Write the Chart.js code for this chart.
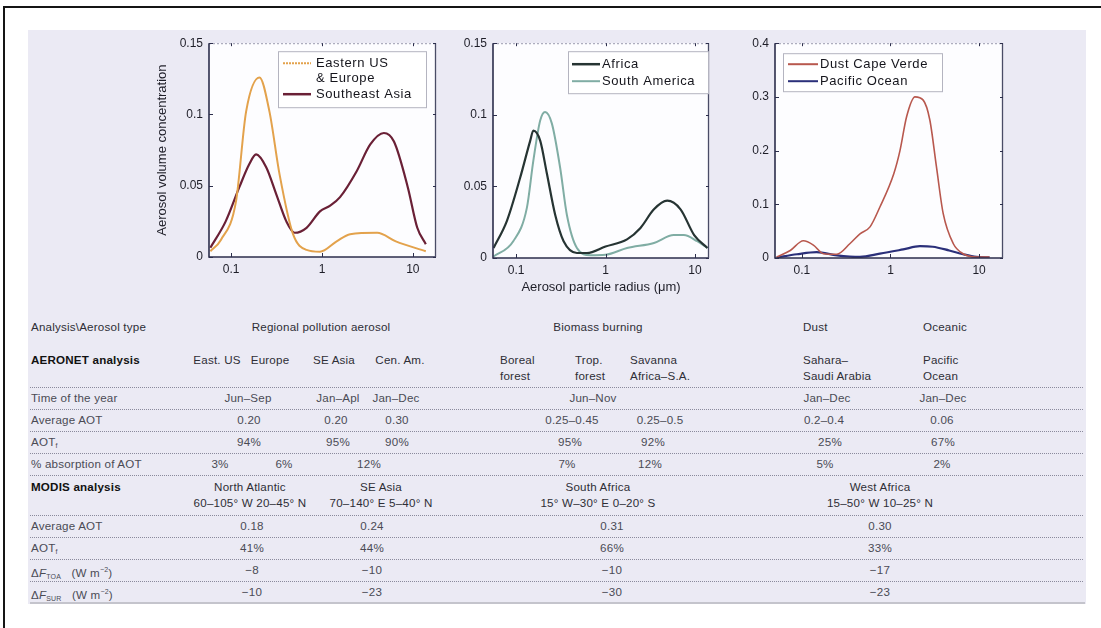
<!DOCTYPE html>
<html><head><meta charset="utf-8">
<script src="https://cdn.jsdelivr.net/npm/chart.js@4.4.1/dist/chart.umd.min.js"></script>
<style>
html,body{margin:0;padding:0;background:#fff;width:1101px;height:628px;overflow:hidden;font-family:'Liberation Sans',Arial,sans-serif;}
#frameTop{position:absolute;left:4px;top:6px;width:1097px;height:2px;background:#151515;}
#frameLeft{position:absolute;left:3px;top:6px;width:2px;height:622px;background:#151515;}
#panel{position:absolute;left:28px;top:30px;width:1058px;height:574px;background:#ebeaf4;}
canvas{position:absolute;}
.cell{position:absolute;white-space:nowrap;font-size:11.6px;color:#4a4a54;line-height:16px;letter-spacing:0.2px;}
.hd{color:#2e2e36;}
.bold{font-weight:bold;color:#111;}
.sep{position:absolute;left:30px;width:1053px;height:0;border-top:1px dotted #8a8a9c;}
.solid{position:absolute;left:30px;width:1055px;height:0;border-top:2px solid #c4c4cc;}
sub{font-size:7px;vertical-align:-2px;}
sup{font-size:7px;vertical-align:5px;}
</style>
</head><body>
<div id="frameTop"></div><div id="frameLeft"></div><div id="panel"></div>
<canvas id="c1" width="295" height="262" style="left:150px;top:30px"></canvas>
<canvas id="c2" width="278" height="266" style="left:440px;top:30px"></canvas>
<canvas id="c3" width="285" height="262" style="left:730px;top:30px"></canvas>
<script>
// ---------------- DATA ----------------
const xTickValues = [0.1, 1, 10];

const easternUsEuropeRadius = [0.059,0.077,0.113,0.146,0.205,0.264,0.341,0.48,0.676,0.95,1.45,2.04,4.05,6.5,13.9];
const easternUsEuropeVolume = [0.004,0.012,0.039,0.102,0.126,0.102,0.058,0.016,0.005,0.0037,0.011,0.016,0.017,0.011,0.004];
const southeastAsiaRadius = [0.059,0.087,0.123,0.158,0.188,0.243,0.314,0.405,0.5,0.676,0.95,1.23,1.58,2.4,3.4,4.8,6.2,8.8,11.2,13.9];
const southeastAsiaVolume = [0.0065,0.025,0.049,0.065,0.072,0.063,0.044,0.025,0.017,0.0205,0.032,0.036,0.042,0.060,0.079,0.087,0.081,0.049,0.0205,0.009];

const africaRadius = [0.056,0.079,0.111,0.144,0.156,0.186,0.221,0.274,0.34,0.479,0.62,1.0,1.74,2.46,3.48,4.9,6.9,9.8,13.8];
const africaVolume = [0.007,0.026,0.056,0.082,0.089,0.082,0.059,0.030,0.0117,0.0035,0.0035,0.008,0.013,0.021,0.034,0.040,0.034,0.016,0.007];
const southAmericaRadius = [0.056,0.093,0.132,0.156,0.186,0.211,0.251,0.311,0.37,0.479,0.675,1.0,1.74,3.48,5.8,7.5,10.6,13.8];
const southAmericaVolume = [0.001,0.0117,0.035,0.068,0.096,0.102,0.094,0.063,0.030,0.007,0.002,0.0023,0.007,0.0105,0.016,0.016,0.0117,0.007];

const dustCapeVerdeRadius = [0.052,0.074,0.104,0.135,0.175,0.248,0.35,0.453,0.588,0.76,1.09,1.28,1.52,1.89,2.34,2.78,3.3,3.93,5.1,6.6,9.3,13.1];
const dustCapeVerdeVolume = [0.002,0.014,0.032,0.024,0.008,0.007,0.027,0.045,0.058,0.095,0.157,0.20,0.263,0.300,0.294,0.257,0.170,0.083,0.027,0.008,0.002,0.002];
const pacificOceanRadius = [0.052,0.088,0.147,0.248,0.453,0.76,1.39,2.15,3.0,4.6,6.6,9.3,13.1];
const pacificOceanVolume = [0.001,0.007,0.011,0.005,0.002,0.008,0.016,0.022,0.021,0.014,0.007,0.002,0.001];

const chart1Labels = ["Eastern US\n& Europe", "Southeast Asia"];
const chart2Labels = ["Africa", "South America"];
const chart3Labels = ["Dust Cape Verde", "Pacific Ocean"];

// table data
const aerosolTypes = ["Regional pollution aerosol", "Biomass burning", "Dust", "Oceanic"];
const aeronetSites = ["East. US", "Europe", "SE Asia", "Cen. Am.", "Boreal<br>forest", "Trop.<br>forest", "Savanna<br>Africa–S.A.", "Sahara–<br>Saudi Arabia", "Pacific<br>Ocean"];
const aeronetRowLabels = ["Time of the year", "Average AOT", "AOT<sub>f</sub>", "% absorption of AOT"];
const timeOfYear = ["Jun–Sep", "Jan–Apl", "Jan–Dec", "Jun–Nov", "Jan–Dec", "Jan–Dec"];
const averageAOT = ["0.20", "0.20", "0.30", "0.25–0.45", "0.25–0.5", "0.2–0.4", "0.06"];
const fineAOT = ["94%", "95%", "90%", "95%", "92%", "25%", "67%"];
const absorptionAOT = ["3%", "6%", "12%", "7%", "12%", "5%", "2%"];
const modisRegions = ["North Atlantic", "SE Asia", "South Africa", "West Africa"];
const modisCoords = ["60–105° W 20–45° N", "70–140° E 5–40° N", "15° W–30° E 0–20° S", "15–50° W 10–25° N"];
const modisRowLabels = ["Average AOT", "AOT<sub>f</sub>", "Δ<i>F</i><sub>TOA</sub>&nbsp;&nbsp; (W m<sup>−2</sup>)", "Δ<i>F</i><sub>SUR</sub>&nbsp;&nbsp; (W m<sup>−2</sup>)"];
const modisAverageAOT = ["0.18", "0.24", "0.31", "0.30"];
const modisFineAOT = ["41%", "44%", "66%", "33%"];
const modisFluxTOA = ["−8", "−10", "−10", "−17"];
const modisFluxSUR = ["−10", "−23", "−30", "−23"];

// ---------------- CHARTS ----------------
Chart.defaults.font.family = "'Liberation Sans', Arial, sans-serif";
Chart.defaults.color = '#1e1e28';

function pairs(r, v) { return r.map((x, i) => ({x: x, y: v[i]})); }

const framePlugin = {
  id: 'frameLegend',
  beforeDraw(chart) {
    const {ctx, chartArea: a} = chart;
    ctx.save();
    ctx.fillStyle = '#fdfdff';
    ctx.fillRect(a.left, a.top, a.right - a.left, a.bottom - a.top);
    ctx.restore();
  },
  afterDraw(chart, args, opts) {
    const {ctx, chartArea: a} = chart;
    ctx.save();
    ctx.strokeStyle = '#9a9aae'; ctx.lineWidth = 1; ctx.setLineDash([2, 2]);
    ctx.beginPath(); ctx.moveTo(a.left, a.top + 0.5); ctx.lineTo(a.right, a.top + 0.5); ctx.stroke();
    ctx.setLineDash([]);
    ctx.strokeStyle = '#2c2e4c'; ctx.lineWidth = 1.6;
    ctx.beginPath(); ctx.moveTo(a.left, a.top); ctx.lineTo(a.left, a.bottom); ctx.lineTo(a.right, a.bottom); ctx.stroke();
    ctx.strokeStyle = '#4a4c66'; ctx.lineWidth = 1.3;
    ctx.beginPath(); ctx.moveTo(a.right - 0.5, a.top); ctx.lineTo(a.right - 0.5, a.bottom); ctx.stroke();
    ctx.strokeStyle = '#2c2e4c'; ctx.lineWidth = 1;
    const xs = chart.scales.x, ys = chart.scales.y;
    xs.ticks.forEach(t => { const px = Math.round(xs.getPixelForValue(t.value)) + 0.5;
      ctx.beginPath(); ctx.moveTo(px, a.bottom); ctx.lineTo(px, a.bottom - 4); ctx.moveTo(px, a.top); ctx.lineTo(px, a.top + 3); ctx.stroke(); });
    ys.ticks.forEach(t => { const py = Math.round(ys.getPixelForValue(t.value)) + 0.5;
      ctx.beginPath(); ctx.moveTo(a.left, py); ctx.lineTo(a.left + 4, py); ctx.moveTo(a.right, py); ctx.lineTo(a.right - 3, py); ctx.stroke(); });
    const L = opts.legend;
    if (L) {
      const bx = a.left + L.left, by = a.top + L.top;
      ctx.fillStyle = '#ffffff';
      ctx.fillRect(bx, by, L.width, L.height);
      ctx.strokeStyle = '#b4b4c0'; ctx.lineWidth = 1;
      ctx.strokeRect(bx + 0.5, by + 0.5, L.width, L.height);
      ctx.font = "13px 'Liberation Sans', Arial, sans-serif";
      ctx.letterSpacing = '0.6px';
      ctx.textBaseline = 'middle'; ctx.textAlign = 'left';
      let y = by + L.firstRow;
      chart.data.datasets.forEach(ds => {
        const lines = ds.label.split('\n');
        ctx.strokeStyle = ds.borderColor; ctx.lineWidth = ds.legendWidth || 2;
        ctx.setLineDash(ds.legendDash || []);
        ctx.beginPath(); ctx.moveTo(bx + L.lineStart, y); ctx.lineTo(bx + L.lineEnd, y); ctx.stroke();
        ctx.setLineDash([]);
        ctx.fillStyle = '#15151c';
        lines.forEach(line => { ctx.fillText(line, bx + L.textStart, y); y += L.rowHeight; });
      });
    }
    ctx.restore();
  }
};

function fmt(v) { return String(Number(v.toFixed(2))); }

function makeChart(id, datasets, cfg) {
  return new Chart(document.getElementById(id), {
    type: 'line',
    data: { datasets: datasets },
    plugins: [framePlugin],
    options: {
      responsive: false, animation: false, devicePixelRatio: 1,
      layout: { padding: { left: 0, top: cfg.padTop, right: cfg.padRight, bottom: 0 } },
      elements: { point: { radius: 0 }, line: { tension: 0.4, cubicInterpolationMode: 'monotone' } },
      plugins: { legend: { display: false }, tooltip: { enabled: false }, frameLegend: { legend: cfg.legend } },
      scales: {
        x: {
          type: 'logarithmic', min: cfg.xMin, max: cfg.xMax,
          grid: { display: false, drawTicks: false }, border: { display: false },
          afterBuildTicks: s => { s.ticks = xTickValues.map(v => ({ value: v })); },
          afterFit: s => { s.height = cfg.xHeight; },
          ticks: { padding: 5, font: { size: 12 }, color: '#1e1e28', maxRotation: 0, autoSkip: false, callback: v => String(v) },
          title: cfg.xTitle ? { display: true, text: cfg.xTitle, font: { size: 13 }, color: '#1e1e28', padding: { top: 0, bottom: cfg.xTitlePad } } : { display: false }
        },
        y: {
          min: 0, max: cfg.yMax,
          grid: { display: false, drawTicks: false }, border: { display: false },
          afterFit: s => { s.width = cfg.yWidth; },
          ticks: { stepSize: cfg.yStep, padding: 6, font: { size: 12 }, color: '#1e1e28', callback: v => fmt(v) },
          title: cfg.yTitle ? { display: true, text: cfg.yTitle, font: { size: 13 }, color: '#1e1e28', padding: { top: 5, bottom: 0 } } : { display: false }
        }
      }
    }
  });
}

makeChart('c1', [
  { label: chart1Labels[0], data: pairs(easternUsEuropeRadius, easternUsEuropeVolume), borderColor: '#e3a24c', borderWidth: 2, legendDash: [2, 1] },
  { label: chart1Labels[1], data: pairs(southeastAsiaRadius, southeastAsiaVolume), borderColor: '#6a2036', borderWidth: 2.2, legendWidth: 2.5 }
], { xMin: 0.057, xMax: 18, yMax: 0.15, yStep: 0.05, yWidth: 59, xHeight: 35, padTop: 12, padRight: 9,
     yTitle: 'Aerosol volume concentration',
     legend: { left: 69, top: 8, width: 148, height: 56, firstRow: 12, rowHeight: 15.5, lineStart: 5, lineEnd: 33, textStart: 38 } });

makeChart('c2', [
  { label: chart2Labels[0], data: pairs(africaRadius, africaVolume), borderColor: '#263433', borderWidth: 2.2, legendWidth: 2.5 },
  { label: chart2Labels[1], data: pairs(southAmericaRadius, southAmericaVolume), borderColor: '#80ada4', borderWidth: 2 }
], { xMin: 0.0552, xMax: 14.36, yMax: 0.15, yStep: 0.05, yWidth: 53, xHeight: 38, padTop: 12, padRight: 9,
     xTitle: 'Aerosol particle radius (μm)', xTitlePad: 1,
     legend: { left: 75, top: 8, width: 140, height: 42, firstRow: 13, rowHeight: 17, lineStart: 4, lineEnd: 32, textStart: 34 } });

makeChart('c3', [
  { label: chart3Labels[0], data: pairs(dustCapeVerdeRadius, dustCapeVerdeVolume), borderColor: '#b8584e', borderWidth: 1.6 },
  { label: chart3Labels[1], data: pairs(pacificOceanRadius, pacificOceanVolume), borderColor: '#2b307a', borderWidth: 2.2 }
], { xMin: 0.0498, xMax: 18.6, yMax: 0.4, yStep: 0.1, yWidth: 45, xHeight: 34, padTop: 12, padRight: 12,
     legend: { left: 8, top: 10, width: 159, height: 38, firstRow: 11, rowHeight: 17, lineStart: 5, lineEnd: 35, textStart: 37 } });

// ---------------- TABLE ----------------
function put(html, x, y, align, cls) {
  const d = document.createElement('div');
  d.className = 'cell' + (cls ? ' ' + cls : '');
  d.innerHTML = html;
  d.style.left = x + 'px'; d.style.top = y + 'px';
  d.style.transform = align === 'left' ? 'translateY(-8px)' : 'translate(-50%,-8px)';
  if (align === 'center') d.style.textAlign = 'center';
  document.body.appendChild(d);
}
function line(y, cls) {
  const d = document.createElement('div'); d.className = cls || 'sep'; d.style.top = y + 'px';
  document.body.appendChild(d);
}

const LABEL_X = 31;
put('Analysis\\Aerosol type', LABEL_X, 327, 'left', 'hd');
const typeX = [321, 598, 803, 923], typeAlign = ['center', 'center', 'left', 'left'];
aerosolTypes.forEach((t, i) => put(t, typeX[i], 327, typeAlign[i], 'hd'));

put('AERONET analysis', LABEL_X, 360, 'left', 'bold');
const siteX = [217, 270, 334, 400, 500, 575, 630, 803, 923];
const siteAlign = ['center', 'center', 'center', 'center', 'left', 'left', 'left', 'left', 'left'];
aeronetSites.forEach((s, i) => put(s, siteX[i], 360, siteAlign[i], 'hd'));

const aeroRowY = [398, 420, 442, 464];
aeronetRowLabels.forEach((l, i) => put(l, LABEL_X, aeroRowY[i], 'left'));
const timeX = [248, 338, 396, 593, 827, 943];
timeOfYear.forEach((v, i) => put(v, timeX[i], aeroRowY[0], 'center'));
const avgX = [249, 336, 397, 572, 660, 824, 942];
averageAOT.forEach((v, i) => put(v, avgX[i], aeroRowY[1], 'center'));
const fineX = [249, 338, 397, 570, 653, 830, 943];
fineAOT.forEach((v, i) => put(v, fineX[i], aeroRowY[2], 'center'));
const absX = [220, 284, 369, 567, 650, 825, 942];
absorptionAOT.forEach((v, i) => put(v, absX[i], aeroRowY[3], 'center'));

put('MODIS analysis', LABEL_X, 487, 'left', 'bold');
const modisHeadX = [250, 381, 598, 880];
modisRegions.forEach((r, i) => put(r + '<br>' + modisCoords[i], modisHeadX[i], 487, 'center', 'hd'));

const modisRowY = [526, 548, 570, 592];
modisRowLabels.forEach((l, i) => put(l, LABEL_X, modisRowY[i], 'left'));
const modisX = [252, 372, 612, 880];
[modisAverageAOT, modisFineAOT, modisFluxTOA, modisFluxSUR].forEach((row, r) =>
  row.forEach((v, i) => put(v, modisX[i], modisRowY[r], 'center')));

[387, 409, 431, 453, 475, 515, 537, 559, 581].forEach(y => line(y));
line(602, 'solid');
</script>
</body></html>
